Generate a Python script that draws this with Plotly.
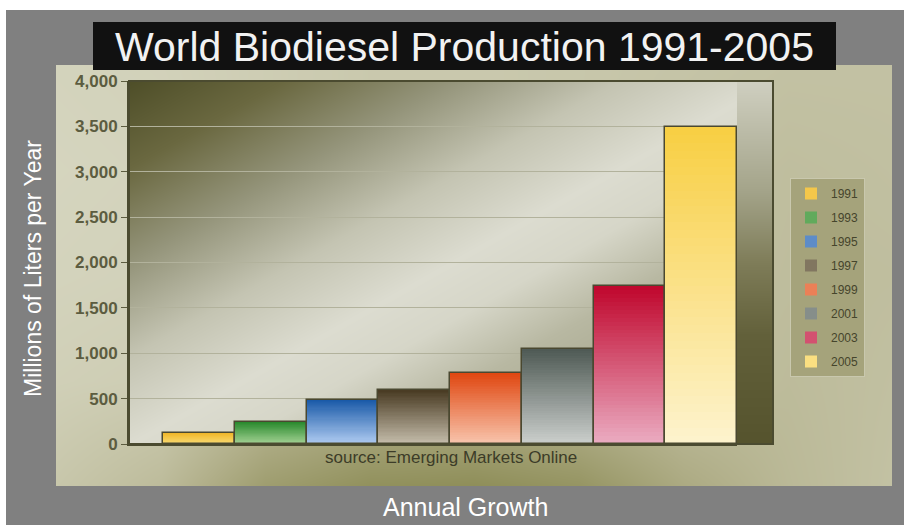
import plotly.graph_objects as go

# ---------------- data ----------------
years = ["1991", "1993", "1995", "1997", "1999", "2001", "2003", "2005"]
production = [120, 240, 490, 590, 780, 1050, 1740, 3490]
y_ticks = [0, 500, 1000, 1500, 2000, 2500, 3000, 3500, 4000]

top_colors = ["#f0b628", "#2a8a2e", "#1a5aa8", "#4a3c24", "#e04812", "#4f5a55", "#c0082e", "#f8cf44"]
bottom_colors = ["#f9dc74", "#a4d294", "#aecaf0", "#c4bcaa", "#f8c4ac", "#cacecb", "#eaaac0", "#fdf3cc"]

# ---------------- helpers ----------------
W, H = 904, 525


def fx(p):
    return p / W


def fy(p):
    return 1 - p / H


def hex2rgb(h):
    h = h.lstrip("#")
    return tuple(int(h[i:i + 2], 16) for i in (0, 2, 4))


def lerp(c1, c2, t):
    a, b = hex2rgb(c1), hex2rgb(c2)
    return "rgb(%d,%d,%d)" % tuple(round(a[i] + (b[i] - a[i]) * t) for i in range(3))


# plot area pixel geometry
PL, PR, PT, PB = 129, 773, 81, 444
BAR_R = 737
YMAX = y_ticks[-1]

fig = go.Figure()

# --- khaki panel gradient (decoration) ---
panel_x = [i / 8 for i in range(9)]
panel_y = [0, 0.25, 0.5, 0.75, 1]
panel_z = [
    [0.22, 0.35, 0.70, 0.85, 0.88, 0.80, 0.55, 0.38, 0.28],
    [0.12, 0.15, 0.30, 0.40, 0.40, 0.35, 0.30, 0.35, 0.30],
    [0.08, 0.10, 0.20, 0.25, 0.25, 0.25, 0.30, 0.33, 0.32],
    [0.06, 0.08, 0.15, 0.20, 0.20, 0.22, 0.28, 0.32, 0.30],
    [0.08, 0.10, 0.15, 0.20, 0.20, 0.22, 0.25, 0.28, 0.28],
]
fig.add_trace(go.Heatmap(
    x=panel_x, y=panel_y, z=panel_z, zmin=0, zmax=1, zsmooth="best",
    colorscale=[[0, "#dadac6"], [0.5, "#b0ae88"], [1, "#84844a"]],
    showscale=False, hoverinfo="skip", xaxis="x", yaxis="y"))

# --- plot background diagonal gradient (decoration) ---
fig.add_trace(go.Heatmap(
    x=[0, 1], y=[0, 1], z=[[0.5, 1.0], [0.0, 0.5]], zmin=0, zmax=1, zsmooth="best",
    colorscale=[[0, "#4e4e28"], [0.12, "#6a6840"], [0.25, "#94947a"], [0.38, "#c4c4b2"],
                [0.5, "#dcdcd0"], [0.58, "#d6d6c8"], [0.68, "#b8b8a2"], [0.85, "#a0a084"],
                [1.0, "#8a8a68"]],
    showscale=False, hoverinfo="skip", xaxis="x2", yaxis="y2"))

# --- bars: legend traces (mid colours) ---
for i, yr in enumerate(years):
    fig.add_trace(go.Bar(
        x=[yr], y=[production[i]], name=yr, legendgroup=yr,
        marker=dict(color=lerp(top_colors[i], bottom_colors[i], 0.45), line=dict(width=0)),
        xaxis="x3", yaxis="y3", hoverinfo="skip"))

# --- bars: vertical gradient bands ---
N = 40
for k in range(N):
    t = k / (N - 1)
    fig.add_trace(go.Bar(
        x=years, y=[v * (1 - k / N) for v in production],
        marker=dict(color=[lerp(top_colors[i], bottom_colors[i], t) for i in range(len(years))],
                    line=dict(width=0)),
        showlegend=False, hoverinfo="skip", xaxis="x3", yaxis="y3"))

# --- bars: outline ---
fig.add_trace(go.Bar(
    x=years, y=production,
    marker=dict(color="rgba(0,0,0,0)", line=dict(color="#4a4830", width=1.5)),
    showlegend=False, hoverinfo="skip", xaxis="x3", yaxis="y3"))

# --- right 3D wall (decoration) ---
wall_stops = [0, 0.3, 0.5, 0.7, 1]
fig.add_trace(go.Heatmap(
    x=[0, 1], y=[s * YMAX for s in wall_stops], z=[[s, s] for s in wall_stops],
    zmin=0, zmax=1, zsmooth="best",
    colorscale=[[0, "#55532d"], [0.3, "#62603a"], [0.5, "#7e7c58"], [0.7, "#a4a48a"], [1, "#cfcfc0"]],
    showscale=False, hoverinfo="skip", xaxis="x4", yaxis="y4"))

plot_ydom = [fy(PB), fy(PT)]

fig.update_layout(
    width=W, height=H, autosize=False,
    margin=dict(l=0, r=0, t=0, b=0, pad=0, autoexpand=False),
    paper_bgcolor="white", plot_bgcolor="rgba(0,0,0,0)",
    barmode="overlay", bargap=0, hovermode=False,
    font=dict(family="Liberation Sans, Arial, sans-serif"),
    xaxis=dict(domain=[fx(56), fx(892)], range=[0, 1], visible=False, anchor="y",
               fixedrange=True, automargin=False),
    yaxis=dict(domain=[fy(486), fy(65)], range=[0, 1], visible=False, anchor="x",
               fixedrange=True, automargin=False),
    xaxis2=dict(domain=[fx(PL), fx(PR)], range=[0, 1], visible=False, anchor="y2", automargin=False),
    yaxis2=dict(domain=plot_ydom, range=[0, 1], visible=False, anchor="x2", automargin=False),
    xaxis3=dict(domain=[fx(PL), fx(BAR_R)], type="category", categoryorder="array",
                categoryarray=years, range=[-0.978, 7.5], showline=True, linecolor="#4b4b30",
                linewidth=2, showticklabels=False, ticks="", showgrid=False, zeroline=False,
                anchor="y3", automargin=False),
    yaxis3=dict(domain=plot_ydom, range=[0, YMAX], tickvals=y_ticks, tickformat=",",
                ticks="outside", ticklen=6, tickcolor="#5c5c40", tickwidth=1,
                showline=True, linecolor="#4b4b30", linewidth=2,
                showgrid=True, gridcolor="#b2b29c", gridwidth=1, zeroline=False,
                tickfont=dict(size=17, color="#5c5c40", weight="bold",
                              family="Liberation Sans, Arial, sans-serif"),
                anchor="x3", automargin=False),
    xaxis4=dict(domain=[fx(BAR_R), fx(PR)], range=[0, 1], showticklabels=False, ticks="",
                showgrid=False, zeroline=False, showline=False, anchor="y4", automargin=False),
    yaxis4=dict(domain=plot_ydom, range=[0, YMAX], tickvals=y_ticks, showticklabels=False,
                ticks="", showgrid=True, gridcolor="#a0a084", zeroline=False, showline=False,
                anchor="x4", automargin=False),
    legend=dict(x=fx(790), y=fy(178), xanchor="left", yanchor="top",
                bgcolor="#a5a37b", bordercolor="#c9c8ae", borderwidth=1,
                font=dict(size=12, color="#45452c"), tracegroupgap=5, traceorder="grouped"),
    shapes=[
        dict(type="rect", xref="paper", yref="paper", x0=fx(6), x1=1, y0=0, y1=fy(10),
             fillcolor="#808080", line=dict(width=0), layer="below"),
        dict(type="rect", xref="paper", yref="paper", x0=fx(PL), x1=fx(PR), y0=fy(PB), y1=fy(PT),
             fillcolor="rgba(0,0,0,0)", line=dict(color="#4b4b30", width=2), layer="above"),
        dict(type="rect", xref="paper", yref="paper", x0=fx(93), x1=fx(836), y0=fy(70), y1=fy(22),
             fillcolor="#111111", line=dict(width=0), layer="above"),
    ],
    annotations=[
        dict(text="World Biodiesel Production 1991-2005", xref="paper", yref="paper",
             x=fx(464), y=fy(47), xanchor="center", yanchor="middle", showarrow=False,
             font=dict(size=41, color="#f2f2f2")),
        dict(text="Millions of Liters per Year", xref="paper", yref="paper",
             x=fx(33), y=fy(269), xanchor="center", yanchor="middle", showarrow=False,
             textangle=-90, font=dict(size=23, color="white")),
        dict(text="Annual Growth", xref="paper", yref="paper",
             x=fx(465), y=fy(507), xanchor="center", yanchor="middle", showarrow=False,
             font=dict(size=25, color="white")),
        dict(text="source: Emerging Markets Online", xref="paper", yref="paper",
             x=fx(451), y=fy(457), xanchor="center", yanchor="middle", showarrow=False,
             font=dict(size=17, color="#3c3c28")),
    ],
)

fig.write_html("out.html", config={"displayModeBar": False, "responsive": False},
               post_script="document.body.style.margin='0px';")
